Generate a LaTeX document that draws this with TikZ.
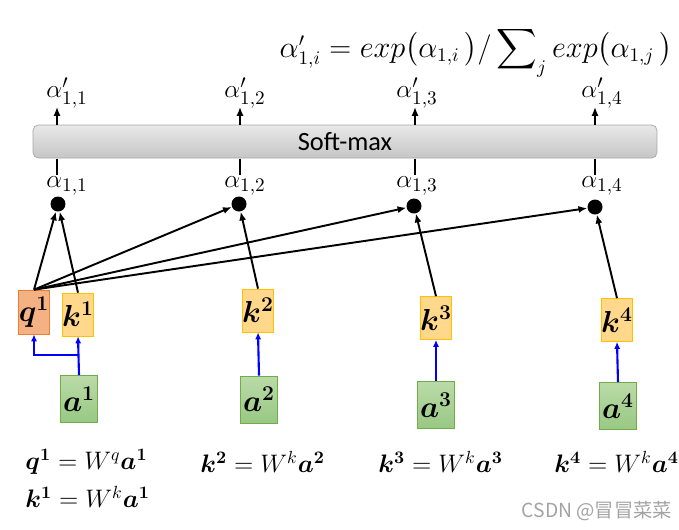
\documentclass[tikz,border=0pt]{standalone}
\usepackage{amsmath,amssymb}
\usepackage{fontspec}
\setmainfont{Carlito}
\newfontfamily\cjkfont{Noto Sans CJK SC}
\usepackage{xcolor}
\usepackage{tikz}
\usetikzlibrary{arrows.meta,positioning}
\definecolor{qfill}{HTML}{F4B183}
\definecolor{qline}{HTML}{ED7D31}
\definecolor{kfill}{HTML}{FFD88C}
\definecolor{kline}{HTML}{FFC000}
\definecolor{atop}{HTML}{BADBA8}
\definecolor{abot}{HTML}{98C883}
\definecolor{aline}{HTML}{70AD47}
\definecolor{bartop}{HTML}{E8E8E8}
\definecolor{barbot}{HTML}{C6C6C6}
\definecolor{barline}{HTML}{A6A6A6}
\definecolor{markgrey}{HTML}{A3A3A3}

\begin{document}
\begin{tikzpicture}[x=0.02cm,y=-0.02cm,
  qbox/.style={draw=qline,fill=qfill,minimum width=0.48cm,minimum height=0.88cm,
               inner sep=0pt,font=\fontsize{17}{19}\selectfont},
  kbox/.style={draw=kline,fill=kfill,minimum width=0.46cm,minimum height=0.86cm,
               inner sep=0pt,font=\fontsize{17}{19}\selectfont},
  abox/.style={draw=aline,top color=atop,bottom color=abot,minimum width=0.74cm,
               minimum height=0.94cm,inner sep=0pt,font=\fontsize{17}{19}\selectfont},
  dot/.style={circle,fill=black,minimum size=0.3cm,inner sep=0pt},
  lbl/.style={font=\fontsize{15}{17}\selectfont,inner sep=0pt},
  eqn/.style={font=\fontsize{14.5}{17}\selectfont,inner sep=0pt,anchor=west},
  arr/.style={-{Latex[length=5pt,width=4pt]},line width=1.1pt},
  barr/.style={-{Latex[length=4pt,width=3.5pt]},line width=1.2pt,draw=blue}
]
\useasboundingbox (0,0) rectangle (679,529);

% formula
\node[inner sep=0pt,font=\fontsize{16}{19}\selectfont] (form) at (476,52)
  {$\alpha'_{1,i}=exp\big(\alpha_{1,i}\,\big)/\displaystyle\sum\nolimits_j exp\big(\alpha_{1,j}\,\big)$};

% soft-max bar
\node[draw=barline,top color=bartop,bottom color=barbot,rounded corners=3pt,
      minimum width=12.48cm,minimum height=0.66cm,font=\fontsize{15}{18}\selectfont]
      (smax) at (345,141.5) {Soft-max};

% dots and labels
\node[dot] (d1) at (58,204) {};
\node[dot] (d2) at (239,204) {};
\node[dot] (d3) at (414,206) {};
\node[dot] (d4) at (595,207) {};
\foreach \x/\i in {67/1,245/2,417/3,602/4}{
  \node[lbl] (al\i) at (\x,186) {$\alpha_{1,\i}$};
  \node[lbl] (ap\i) at (\x,93) {$\alpha'_{1,\i}$};
}
\foreach \x/\i in {57/1,240/2,415/3,595/4}{
  \coordinate (bt\i) at (\x,107);
  \coordinate (bb\i) at (\x,175);
  \draw[arr,line width=0.9pt] (\x,124.5) -- (bt\i);
  \draw[line width=0.9pt] (\x,158.5) -- (bb\i);
}

% q, k, a boxes
\node[qbox] (q1) at (34,312) {$\boldsymbol{q^1}$};
\node[kbox] (k1) at (78,314.5) {$\boldsymbol{k^1}$};
\node[kbox] (k2) at (258,310.5) {$\boldsymbol{k^2}$};
\node[kbox] (k3) at (436,318) {$\boldsymbol{k^3}$};
\node[kbox] (k4) at (617,320) {$\boldsymbol{k^4}$};
\node[abox] (a1) at (79,399) {$\boldsymbol{a^1}$};
\node[abox] (a2) at (259,399.5) {$\boldsymbol{a^2}$};
\node[abox] (a3) at (436,405) {$\boldsymbol{a^3}$};
\node[abox] (a4) at (618,406) {$\boldsymbol{a^4}$};

% blue arrows
\coordinate (br) at (79,355);
\draw[barr] (a1.north) -- (k1.south);
\draw[barr] (br) -| (q1.south);
\foreach \i in {2,3,4}
  \draw[barr] (a\i.north) -- (k\i.south);

% black arrows
\foreach \i in {1,2,3,4}{
  \draw[arr] (q1.north) -- (d\i);
  \draw[arr] (k\i.north) -- (d\i);
}

% equations
\node[eqn] (e1) at (25,462) {$\boldsymbol{q^1}=W^q\boldsymbol{a^1}$};
\node[eqn] (e2) at (200,462) {$\boldsymbol{k^2}=W^k\boldsymbol{a^2}$};
\node[eqn] (e3) at (378,462) {$\boldsymbol{k^3}=W^k\boldsymbol{a^3}$};
\node[eqn] (e4) at (554,462) {$\boldsymbol{k^4}=W^k\boldsymbol{a^4}$};
\node[eqn] (e5) at (25,497) {$\boldsymbol{k^1}=W^k\boldsymbol{a^1}$};

% watermark
\node[inner sep=0pt,text=markgrey,font=\cjkfont\fontsize{11}{13}\selectfont]
  (mark) at (597,511) {CSDN @冒冒菜菜};
\end{tikzpicture}
\end{document}
